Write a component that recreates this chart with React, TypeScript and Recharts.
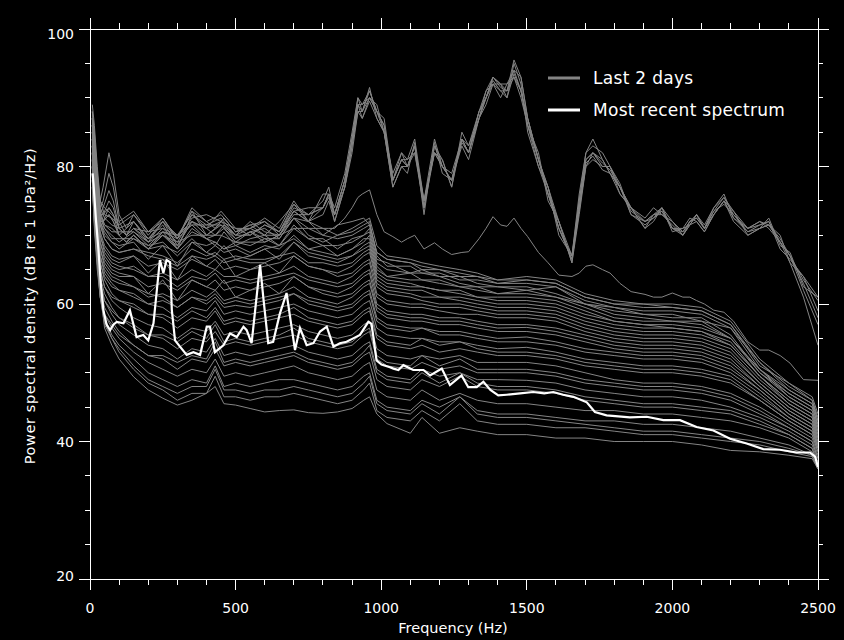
import { LineChart, Line, XAxis, YAxis, Legend } from "recharts";

// frequency grid (Hz) for the loud spectra with the big 900-1800 Hz hump
const upperFreq = [
  8, 15, 25, 35, 45, 65, 80, 100, 125, 150,
  200, 250, 300, 350, 400, 450, 500, 550, 600, 650,
  700, 750, 800, 820, 840, 875, 900, 920, 935, 960,
  985, 1010, 1040, 1070, 1090, 1115, 1147, 1183, 1210, 1242,
  1277, 1300, 1336, 1360, 1384, 1410, 1432, 1456, 1480, 1503,
  1540, 1573, 1610, 1655, 1680, 1703, 1727, 1760, 1786, 1820,
  1858, 1906, 1935, 1964, 2000, 2036, 2060, 2083, 2110, 2142,
  2177, 2210, 2259, 2300, 2331, 2370, 2404, 2450, 2500,
];

const upperSpectra = [
  [
    89, 86, 80, 75, 77, 82, 79, 73, 71, 73,
    70, 72.5, 69.5, 74, 72, 73, 70.5, 71.5, 72, 70.5,
    74.5, 73, 75, 77, 73, 78, 84, 89, 88, 91,
    88, 86, 78, 81, 80, 83, 74, 83, 80, 78,
    84, 82, 88, 90, 92.5, 91, 91, 94, 91, 86,
    81, 76, 71, 66.5, 74, 81, 82, 80.5, 79.5, 77,
    73.5, 72, 73, 73.5, 71, 70.5, 72, 72.5, 71, 73.5,
    75.5, 73, 70.5, 71.5, 72, 69, 67, 63.5, 60.5,
  ],
  [
    88, 85, 79, 74, 75, 79, 77, 72, 70, 72,
    69, 72, 70, 73, 71, 73.5, 71, 71, 72.5, 71,
    75, 72, 76, 76, 74, 79, 85, 90, 89, 90,
    89, 85, 79, 82, 81, 82, 75, 82, 81, 77,
    85, 83, 87, 91, 93, 92, 90, 95, 92, 85,
    80, 77, 70, 67, 75, 82, 84, 81, 79, 76,
    74, 72.5, 74, 73, 72, 70, 71.5, 73, 71.5, 74,
    76, 72.5, 71, 72, 71.5, 70, 66, 64, 59,
  ],
  [
    87, 84, 78, 73, 74, 76.5, 75, 71, 70, 71,
    70.5, 71, 69, 72.5, 73, 72, 70, 72, 70.5, 70,
    73.5, 74, 74, 76, 72, 77, 83, 88, 88, 91.5,
    87, 85, 77, 80, 79, 83.5, 73, 83.5, 79, 78,
    83, 81, 87, 89, 92, 90, 92, 93, 90, 86,
    82, 75, 72, 66, 73, 80, 81, 80, 80, 77.5,
    73, 71.5, 72.5, 74, 70.5, 71, 72.5, 72, 70.5, 73,
    75, 73.5, 70, 71, 72.5, 68.5, 67.5, 62.5, 61,
  ],
  [
    86, 82, 77, 72, 72, 74, 73, 70, 69, 70,
    68, 70, 68.5, 72, 70, 71.5, 69, 70.5, 69.5, 69.5,
    72.5, 72, 73, 75, 72, 77, 82, 88, 87, 90,
    88, 86, 78, 81, 81, 84, 75, 82, 80, 79,
    84, 82, 88, 90, 93, 91.5, 91, 93, 91, 87,
    81, 77, 71, 67, 74, 80, 82, 81, 79, 77,
    74, 71, 73, 73, 71.5, 70, 72, 72.5, 71, 73,
    75, 72.5, 70.5, 71, 71.5, 69.5, 67, 63, 58,
  ],
  [
    88, 84, 78, 73, 73, 75, 74, 71, 70, 71,
    69.5, 71.5, 68, 73, 71.5, 72.5, 70, 70, 71.5, 70.5,
    74, 73, 74, 76, 73, 78, 84, 90, 88, 90,
    88, 87, 78, 81, 80, 82, 74, 83, 81, 77,
    84, 83, 88, 91, 92, 92, 92, 94, 93, 87,
    81, 76, 72, 66, 75, 81, 82, 80, 80, 76,
    74, 72, 73, 74, 71, 71, 71.5, 73, 71, 73.5,
    74.5, 73, 71, 71.5, 72, 68, 66.5, 64, 61,
  ],
  [
    85, 82, 76, 72, 72, 73, 72, 70, 69, 70,
    68, 70.5, 69.5, 71.5, 71.5, 71.5, 70, 71, 70, 70,
    73, 73, 74, 75.5, 73, 77, 83, 89, 87, 89.5,
    87, 85, 77, 80, 80, 83, 74, 82, 80, 78,
    83.5, 82, 87, 90, 92, 91, 90, 93.5, 91, 86,
    80, 76, 71, 66.5, 73.5, 80.5, 81.5, 79.5, 79, 77,
    73, 72, 72.5, 73.5, 71, 70, 71.5, 72, 70.5, 73,
    75, 72, 70, 71, 71.5, 69, 67, 62, 57,
  ],
  [
    87, 83, 77, 73, 73, 74, 73, 71, 70, 71,
    69, 71, 70, 72, 71, 72, 71, 70, 71.5, 70.5,
    73.5, 72, 74, 76, 73, 78, 84, 89, 89, 91,
    88, 85, 78, 82, 80, 83, 75, 84, 80, 78,
    84, 82, 87, 90, 93, 92, 91, 95.5, 93, 87,
    81, 77, 72, 67, 76, 82, 83, 82, 80, 77,
    74, 71, 72, 74, 72, 70.5, 72, 73, 71, 74,
    75.5, 73.5, 71, 72, 71, 69, 66, 61, 54,
  ],
];

// the single spectrum sitting between the loud group and the main band
const transitionSpectrum = [
  86, 83, 77, 72, 72, 73, 72, 70, 69, 70,
  68, 70, 69, 70, 70, 70, 69, 69, 69, 70,
  71, 71, 71, 71, 71, 72.5, 74, 75.5, 76, 76.6,
  73, 70.5, 69.8, 69, 69.5, 70, 68, 68.9, 68, 67.2,
  67.5, 67.6, 69.5, 71, 72.7, 71.5, 71.3, 72.5, 71, 69.8,
  67.5, 66, 64.2, 64, 64.5, 65.5, 65.7, 65, 64.5, 63,
  61.8, 61.4, 61, 61, 61.6, 61, 61, 60.5, 60, 59.1,
  58.8, 57.5, 54.5, 53.3, 53.3, 52.5, 51.4, 49, 48.9,
];

// frequency grid (Hz) for the ordinary background spectra
const bandFreq = [
  8, 15, 25, 35, 50, 75, 100, 150, 200, 250,
  300, 350, 400, 430, 460, 500, 550, 600, 650, 700,
  750, 800, 850, 900, 940, 960, 985, 1020, 1100, 1140,
  1200, 1270, 1330, 1400, 1500, 1600, 1700, 1800, 1900, 2000,
  2100, 2200, 2300, 2400, 2480, 2500,
];

const bandSpectra = [
  [
    87, 84, 79, 75, 74, 73, 72, 73.5, 70.5, 72.5,
    69.5, 73.5, 72, 71, 72.5, 70.5, 71, 72, 70, 73.5,
    72, 71, 70, 71, 72, 72.5, 68.5, 67, 66.5, 66,
    65.5, 65, 64.5, 63.5, 64, 63.5, 61.5, 60.5, 60, 60,
    59.5, 57.5, 52, 48.5, 46.5, 44,
  ],
  [
    86, 83, 78, 75, 73, 72.5, 71.5, 73, 70.5, 72,
    69.5, 73.5, 70, 71, 72.5, 70.5, 71.5, 70, 72, 74.5,
    72, 70, 71.5, 72, 72.5, 71.5, 67.5, 66.5, 66, 65,
    65, 64, 64, 63.5, 63.5, 63, 61, 60, 60, 59.5,
    59, 57, 51, 48.5, 46, 43.5,
  ],
  [
    86, 82, 78, 74, 72.5, 71.5, 71, 72, 69.5, 72,
    68.5, 72, 71, 70, 71.5, 69.5, 70.5, 71, 69.5, 72.5,
    71, 70, 69.5, 70, 71, 71.5, 67.5, 66.5, 66, 65.5,
    65, 64.5, 64, 63, 63.5, 63, 61, 60, 59.5, 59.5,
    59, 57, 51.5, 48, 46, 43,
  ],
  [
    87, 83, 77, 73, 71.5, 71, 70, 72, 69.5, 70.5,
    70, 71.5, 69.5, 70, 71, 69.5, 70.5, 69, 70, 72.5,
    70, 69, 70, 70.5, 71.5, 72, 67, 65.5, 65.5, 64.5,
    64.5, 63.5, 63.5, 63, 63, 62.5, 60.5, 59.5, 59, 59,
    58.5, 56.5, 51.5, 47.5, 45.5, 43,
  ],
  [
    85, 81, 77, 73.5, 71.5, 70.5, 70.5, 70.5, 68.5, 70.5,
    68, 71, 69.5, 68.5, 70.5, 68.5, 69.5, 70, 68.5, 71.5,
    69.5, 69.5, 68, 69.5, 70, 71, 66.5, 66, 64.5, 65,
    64, 64, 63, 62.5, 62, 62.5, 60, 59.5, 58.5, 58.5,
    57.5, 56.5, 50.5, 47.5, 45.5, 42,
  ],
  [
    85, 82, 77, 73, 71, 70, 69, 70.5, 69, 70,
    68, 70.5, 69.5, 69, 68, 69, 68.5, 69.5, 68.5, 71,
    69.5, 68.5, 68.5, 69, 70, 70.5, 66, 65, 64.5, 64.5,
    64, 63, 62.5, 62.5, 62.5, 61.5, 60, 59, 58.5, 58,
    58, 55.5, 50, 47, 45, 42.5,
  ],
  [
    84, 81, 76, 72.5, 71, 69.5, 69.5, 69.5, 68.5, 69,
    67, 69, 68.5, 69, 68, 68.5, 67.5, 68.5, 68, 70,
    68, 68.5, 67, 68, 69, 70, 65.5, 64, 64.5, 63.5,
    63.5, 62.5, 62.5, 61.5, 62, 61, 60, 58.5, 58, 57.5,
    57.5, 55, 50.5, 47, 45, 42.5,
  ],
  [
    85, 81, 76, 72, 70, 69, 68, 69.5, 68, 68.5,
    67.5, 69.5, 67.5, 68.5, 67.5, 68, 67, 68, 68.5, 69.5,
    68, 67.5, 67, 68, 69.5, 69.5, 65, 64, 63.5, 63.5,
    63, 62.5, 62, 61.5, 61.5, 61, 59.5, 58, 57.5, 57.5,
    57, 55, 50.5, 46.5, 44.5, 42,
  ],
  [
    84, 80, 75.5, 72, 70.5, 69, 68.5, 69, 66.5, 68.5,
    65.5, 69, 67.5, 67, 68.5, 66.5, 67, 68, 66.5, 69,
    67.5, 67, 66.5, 67, 68.5, 69, 64.5, 63.5, 63, 62.5,
    62, 62, 61, 61, 61, 60.5, 59, 57.5, 57, 57,
    56.5, 55, 50, 46.5, 44.5, 41.5,
  ],
  [
    84, 80, 75, 71.5, 69.5, 68, 67.5, 68, 67.5, 67,
    66, 68, 67, 67.5, 66.5, 67, 66.5, 66.5, 67, 69,
    67, 66.5, 66, 67, 68, 68.5, 64, 63, 62.5, 62.5,
    62, 61.5, 61, 60.5, 60.5, 60, 58.5, 57.5, 57, 56.5,
    56, 54.5, 49.5, 46, 44, 41.5,
  ],
  [
    83, 79, 75, 71.5, 69.5, 68, 67.5, 68, 67, 66.5,
    65.5, 67, 66.5, 67, 66, 66.5, 66, 66, 67, 67.5,
    66, 66, 65.5, 66, 67.5, 68, 63.5, 62.5, 62, 62,
    61, 61, 60.5, 60, 60, 59.5, 58, 57, 56.5, 56.5,
    56, 54, 49.5, 46, 44, 41,
  ],
  [
    84, 79, 74, 70, 68, 66.5, 66, 67, 65.5, 66,
    65, 66.5, 65.5, 66.5, 65, 65.5, 65, 65.5, 66, 67,
    65.5, 65, 64.5, 65.5, 67, 67.5, 63, 62, 61.5, 61,
    61, 60.5, 60, 59.5, 59.5, 59, 57.5, 56.5, 56, 56,
    55.5, 54, 49.5, 45.5, 43.5, 41,
  ],
  [
    83, 78.5, 74, 70.5, 68.5, 67, 66.5, 67, 64.5, 66.5,
    63.5, 67, 65.5, 65, 66.5, 64, 65, 66, 64.5, 67,
    65.5, 65, 64, 64.5, 66, 66.5, 62.5, 61.5, 61, 60.5,
    60, 60, 59.5, 59, 59, 58.5, 57, 56, 55.5, 55.5,
    55, 53.5, 49, 45.5, 43.5, 40.5,
  ],
  [
    83, 78, 73, 69, 67, 65.5, 65, 65.5, 64, 64.5,
    63.5, 65, 64, 65, 64, 64, 63.5, 64, 64.5, 65.5,
    64, 63.5, 63, 64, 65.5, 66, 61.5, 60.5, 60, 60,
    59.5, 59.5, 59, 58.5, 58.5, 58, 56.5, 55.5, 55, 55,
    54.5, 53, 48.5, 45, 43, 40.5,
  ],
  [
    82, 78, 73.5, 70, 67.5, 66, 65.5, 65, 64, 64,
    62.5, 64, 63.5, 64.5, 63, 63.5, 63, 63.5, 64, 64.5,
    63.5, 63, 62.5, 63, 64.5, 65, 61, 60, 59.5, 59.5,
    59, 58.5, 58.5, 58, 58, 57.5, 56, 55, 54.5, 54.5,
    54, 52.5, 48.5, 45, 43, 40,
  ],
  [
    83, 77, 72, 68, 66, 64.5, 64, 64, 62.5, 63,
    62, 63.5, 62.5, 63.5, 62, 62.5, 62, 62.5, 63, 64,
    62.5, 62, 61.5, 62.5, 64, 64.5, 60, 59, 58.5, 58.5,
    58, 58, 57.5, 57, 57, 56.5, 55.5, 54.5, 54, 54,
    53.5, 52, 48, 44.5, 42.5, 40,
  ],
  [
    82, 77, 72.5, 69, 66.5, 65, 64.5, 64, 61.5, 63.5,
    60.5, 63.5, 62.5, 62, 63.5, 61, 62, 63, 61.5, 64,
    62.5, 61.5, 61, 61.5, 63, 63.5, 59.5, 58.5, 58, 58,
    57.5, 57.5, 57, 56.5, 56.6, 56, 55, 54, 53.5, 53.5,
    53, 51.5, 48, 44.5, 42.5, 39.5,
  ],
  [
    82, 76, 71, 67, 65, 63.5, 63, 62.5, 61, 61.5,
    60.5, 62, 61, 62, 60.5, 61, 60.5, 61, 61.5, 62.5,
    61, 60.5, 60, 61, 62.5, 63, 59, 58, 57.5, 57.5,
    57, 57, 56.5, 56, 56, 55.5, 54.5, 53.5, 53, 53,
    52.5, 51, 47.5, 44, 42, 39.5,
  ],
  [
    81, 76.5, 72, 68, 65.5, 64, 63.5, 62.5, 61.5, 61,
    59.5, 61, 60.5, 61.5, 60, 60.5, 60, 60.5, 61, 61.5,
    60.5, 60, 59.5, 60, 61.5, 62, 58, 57, 56.5, 56.5,
    56, 56, 55.5, 55, 55.2, 54.5, 53.5, 53, 52.5, 52.5,
    52, 50.5, 47.5, 44, 42, 39,
  ],
  [
    82, 76, 70, 66, 64, 62.5, 62, 61.5, 60, 60.5,
    59.5, 61, 60, 61, 59.5, 59.8, 59.5, 60, 60.5, 61.5,
    60, 59.5, 59, 59.5, 61, 61.5, 57.5, 56.5, 56, 56.5,
    55.5, 55.5, 55, 54.5, 54.5, 54, 53, 52.5, 52, 52,
    51.5, 50, 47, 43.5, 41.5, 39,
  ],
  [
    81, 76, 71, 67, 64.5, 63, 62, 61, 60, 59.5,
    58, 59.5, 59, 60.5, 58.5, 59, 58.5, 59, 59.5, 60,
    59, 58.5, 58, 58.5, 60, 60.5, 56.5, 55.5, 55, 55,
    54.5, 54.5, 54, 53.5, 53.7, 53, 52, 51.5, 51, 51,
    50.5, 49.5, 46.5, 43.5, 41.5, 39,
  ],
  [
    81, 75, 69, 65, 62.5, 61, 60.5, 60, 58.5, 58.5,
    57.5, 59, 58, 59.5, 57.5, 58, 57.5, 58, 58.5, 59.5,
    58, 57.5, 57, 57.5, 59, 59.5, 55.5, 54.5, 54, 55,
    54, 54.5, 53.5, 53, 53, 52.5, 51.5, 51, 50.5, 50.5,
    50, 49, 46, 43, 41, 38.5,
  ],
  [
    80, 75, 70, 66, 63.5, 61.5, 60.5, 59.5, 58.5, 58,
    56.5, 58, 57.5, 59, 57, 57.5, 57, 57.5, 58, 58.5,
    57.5, 57, 56.5, 57, 58.5, 59, 55, 54, 53.5, 54,
    53, 53.5, 53, 52.5, 52.5, 52, 51, 50.5, 50, 50,
    49.5, 48.5, 46, 43, 41, 38.5,
  ],
  [
    80, 74.5, 69.5, 65, 62.5, 60.5, 59.5, 58, 57, 56.5,
    55, 56.5, 56, 57.5, 55.5, 56, 55.5, 56, 56.5, 57,
    56, 55.5, 55, 55.5, 57, 57.5, 53.5, 52.5, 52, 52.5,
    52, 52.5, 51.5, 51.5, 51.5, 51, 50, 49, 48.5, 48.5,
    48, 47, 45, 42.5, 40.5, 38,
  ],
  [
    80, 73, 67, 63, 60.5, 59, 58, 57, 55.5, 55.5,
    54.5, 56, 55, 57, 54.5, 55, 54.5, 55, 55.5, 56.5,
    55, 54.5, 54, 54.5, 56, 56.5, 52.5, 51.5, 51, 52.5,
    51, 52, 50.5, 50.5, 50.5, 50, 49, 48.5, 48, 48,
    47.5, 46.5, 44.5, 42, 40, 37.5,
  ],
  [
    79, 74, 69, 64, 61.5, 59.5, 58, 56.5, 55.5, 55,
    53.5, 55, 54.5, 56, 54, 54.5, 54, 54.5, 55, 55.5,
    54.5, 54, 53.5, 54, 55.5, 56, 52, 51, 50.5, 51.5,
    50.5, 51, 50, 50, 50, 49.5, 48.5, 48, 47.5, 47.5,
    47, 46, 44, 42, 40, 37.5,
  ],
  [
    79, 73.5, 68, 63.5, 60.5, 58.5, 57, 55.5, 54, 53.5,
    52, 53.5, 53, 55, 52.5, 53, 52.5, 53, 53.5, 54,
    53, 52.5, 52, 52.5, 54, 54.5, 50.5, 49.5, 49, 50.5,
    49.5, 50, 49, 49, 48.9, 48.5, 47.5, 47, 46.5, 46.5,
    46, 45, 43.5, 41.5, 39.5, 37,
  ],
  [
    79, 71, 65, 61, 58.5, 57, 55.5, 54, 52.5, 52.5,
    51.5, 52.5, 52, 54.5, 51.5, 52, 51.5, 52, 52.5, 53,
    52, 51.5, 51, 51.5, 53, 54, 50, 49, 48.5, 50,
    48.5, 50, 48.5, 48, 48, 47.5, 46.5, 46, 45.5, 45.5,
    45, 44.5, 43, 41, 39, 36.5,
  ],
  [
    78, 73, 67.5, 62.5, 59.5, 57.5, 56, 54, 52.5, 52,
    50.5, 52, 51.5, 53.5, 51, 51.5, 51, 51.5, 52, 52.5,
    51.5, 51, 50.5, 51, 52.5, 53, 49, 48, 47.5, 49,
    48, 49.5, 48, 47.5, 47.5, 47, 46, 45.5, 45, 45,
    44.5, 44, 42.5, 41, 39, 36.5,
  ],
  [
    78, 72.5, 67, 62, 58.5, 56.5, 55, 53, 51.5, 50.5,
    49.5, 50.5, 50, 52, 49.5, 50, 49.5, 50, 50.5, 51,
    50, 49.5, 49, 49.5, 51, 51.5, 47.5, 46.5, 46, 47.5,
    46, 47, 46, 45.5, 45.5, 45, 44.5, 44.5, 44, 44,
    43.5, 43, 42, 40.5, 38.5, 36.5,
  ],
  [
    77, 72, 66.5, 61.5, 58, 55.5, 54, 52, 50, 49,
    48, 49, 48.5, 51, 48, 48.5, 48, 48.5, 49, 49,
    48.5, 48, 47.5, 48, 49.5, 50, 46, 45, 44.5, 46,
    45, 46.5, 44.5, 44, 44, 43.5, 43, 43, 42.5, 42.5,
    42, 41.5, 40.5, 39.5, 38, 36,
  ],
  [
    78, 72, 66, 61, 57, 55, 53.5, 51, 49, 48,
    47, 48, 48, 50.5, 47.5, 47.5, 47, 47.5, 47.5, 48,
    47.5, 47, 46.5, 47, 48.5, 49.5, 45.5, 44.5, 44, 45.5,
    44, 46.5, 44, 43.5, 43.5, 43, 42.5, 42, 41.5, 41.5,
    41, 40.5, 40, 39, 38, 36,
  ],
  [
    77, 71.5, 66, 61, 57.5, 55, 53, 50.5, 48.5, 47.5,
    46, 47, 47, 49.5, 46.5, 46.5, 46, 46.5, 46.5, 47,
    46.5, 46, 45.5, 46, 47.5, 48.5, 44.5, 43.5, 43, 44.5,
    43, 45.5, 43, 42.5, 42.5, 42, 42, 41.5, 41, 41,
    40.5, 40, 39.5, 38.5, 37.8, 36,
  ],
  [
    80, 74, 68, 62, 56.5, 54, 52, 49.4, 47.5, 46.3,
    45.3, 46, 47, 48, 45.5, 45.3, 44.8, 44.3, 44.5, 44.6,
    44.2, 44.1, 44.3, 44.8, 46, 46.5, 44, 42.6, 41.2, 43.5,
    41.2, 42, 41.5, 41, 41, 40.5, 40.5, 40, 40, 40,
    39.5, 38.7, 38.5, 38, 37.5, 36,
  ],
];

// most recent spectrum (white)
const recentFreq = [
  9, 12, 20, 29, 38, 46, 57, 69, 80, 92,
  115, 137, 160, 183, 200, 218, 240, 252, 263, 275,
  281, 292, 309, 332, 355, 378, 401, 412, 429, 458,
  481, 504, 527, 538, 555, 572, 584, 595, 612, 629,
  652, 675, 692, 704, 721, 744, 767, 790, 813, 836,
  858, 881, 904, 927, 956, 967, 984, 1001, 1030, 1042,
  1059, 1076, 1110, 1145, 1168, 1208, 1236, 1276, 1299, 1328,
  1351, 1375, 1402, 1431, 1477, 1522, 1560, 1591, 1625, 1660,
  1706, 1734, 1774, 1854, 1912, 1969, 2026, 2083, 2141, 2198,
  2255, 2312, 2369, 2427, 2473, 2490, 2500,
];
const recentDb = [
  79, 77.5, 72.5, 67.9, 62.5, 59.1, 57, 56.2, 57, 57.4,
  57.2, 59.1, 55.2, 55.5, 54.7, 57.2, 66.4, 64.5, 66.4, 66.1,
  59.1, 54.7, 53.8, 52.6, 53, 52.6, 56.7, 56.7, 53, 54,
  55.7, 55.2, 56.7, 56.2, 54.3, 61, 65.7, 61, 54.3, 54.5,
  58.6, 61.6, 56.7, 53.3, 56.5, 54, 54.3, 56, 56.7, 53.8,
  54.3, 54.5, 55, 55.5, 57.4, 57.1, 51.8, 51.2, 50.8, 50.6,
  50.4, 51.1, 50.4, 50.4, 49.6, 50.6, 48.2, 49.6, 47.9, 47.9,
  48.7, 47.5, 46.7, 46.8, 47, 47.2, 47, 47.2, 46.8, 46.5,
  45.7, 44.3, 43.8, 43.5, 43.6, 43.1, 43.1, 42.1, 41.6, 40.4,
  39.7, 38.9, 38.8, 38.4, 38.4, 37.8, 36.3,
];

const xTicks = [
  0, 100, 200, 300, 400, 500, 600, 700, 800, 900, 1000, 1100, 1200,
  1300, 1400, 1500, 1600, 1700, 1800, 1900, 2000, 2100, 2200, 2300, 2400, 2500,
];
const yTicks = [20, 25, 30, 35, 40, 45, 50, 55, 60, 65, 70, 75, 80, 85, 90, 95, 100];

const toSeries = (freq: number[], db: number[]) => freq.map((f, i) => ({ f, db: db[i] }));

const graySeries = [
  ...upperSpectra.map((s) => toSeries(upperFreq, s)),
  toSeries(upperFreq, transitionSpectrum),
  ...bandSpectra.map((s) => toSeries(bandFreq, s)),
];
const recentSeries = toSeries(recentFreq, recentDb);

const GRAY = "#848484";
const FONT = "'DejaVu Sans', sans-serif";

function BottomTick({ x, y, payload }: any) {
  const major = payload.value % 500 === 0;
  return (
    <g>
      <line x1={x} x2={x} y1={y} y2={y + (major ? 11 : 6)} stroke="#fff" shapeRendering="crispEdges" />
      {major && (
        <text x={x} y={y + 34} textAnchor="middle" fill="#fff" fontSize={14} fontFamily={FONT}>
          {payload.value}
        </text>
      )}
    </g>
  );
}

function TopTick({ x, y, payload }: any) {
  const major = payload.value % 500 === 0;
  return <line x1={x} x2={x} y1={y} y2={y - (major ? 11 : 6)} stroke="#fff" shapeRendering="crispEdges" />;
}

function LeftTick({ x, y, payload }: any) {
  const major = payload.value % 20 === 0;
  // the end labels sit slightly inside the frame, as in the original plot
  const shift = payload.value === 100 ? 5 : payload.value === 20 ? -3 : 0;
  return (
    <g>
      <line x1={x} x2={x - (major ? 11 : 5)} y1={y} y2={y} stroke="#fff" shapeRendering="crispEdges" />
      {major && (
        <text x={x - 16} y={y + 5 + shift} textAnchor="end" fill="#fff" fontSize={14} fontFamily={FONT}>
          {payload.value}
        </text>
      )}
    </g>
  );
}

function RightTick({ x, y, payload }: any) {
  const major = payload.value % 20 === 0;
  return <line x1={x} x2={x + (major ? 11 : 5)} y1={y} y2={y} stroke="#fff" shapeRendering="crispEdges" />;
}

function SpectrumLegend() {
  return (
    <svg width={280} height={70}>
      <line x1={8} x2={40} y1={18} y2={18} stroke={GRAY} strokeWidth={3} />
      <text x={53} y={24} fill="#fff" fontSize={17} letterSpacing={0.3} fontFamily={FONT}>
        Last 2 days
      </text>
      <line x1={8} x2={40} y1={50} y2={50} stroke="#fff" strokeWidth={3} />
      <text x={53} y={56} fill="#fff" fontSize={17} letterSpacing={0.3} fontFamily={FONT}>
        Most recent spectrum
      </text>
    </svg>
  );
}

const axisLine = { stroke: "#fff", shapeRendering: "crispEdges" };

export default function App() {
  return (
    <div style={{ position: "absolute", left: 0, top: 0, width: 844, height: 640, background: "#000" }}>
      <LineChart width={844} height={640} margin={{ top: 19, right: 6, bottom: 21, left: 30 }}>
        <XAxis
          dataKey="f"
          type="number"
          domain={[0, 2500]}
          ticks={xTicks}
          interval={0}
          height={40}
          tickSize={0}
          tickMargin={0}
          tickLine={false}
          axisLine={axisLine}
          tick={<BottomTick />}
          allowDataOverflow
          label={() => (
            <text x={453} y={633} textAnchor="middle" fill="#fff" fontSize={14.5} fontFamily={FONT}>
              Frequency (Hz)
            </text>
          )}
        />
        <XAxis
          xAxisId="top"
          orientation="top"
          dataKey="f"
          type="number"
          domain={[0, 2500]}
          ticks={xTicks}
          interval={0}
          height={10}
          tickSize={0}
          tickMargin={0}
          tickLine={false}
          axisLine={axisLine}
          tick={<TopTick />}
          allowDataOverflow
        />
        <YAxis
          type="number"
          domain={[20, 100]}
          ticks={yTicks}
          interval={0}
          width={60}
          tickSize={0}
          tickMargin={0}
          tickLine={false}
          axisLine={axisLine}
          tick={<LeftTick />}
          allowDataOverflow
          label={() => (
            <text
              x={35}
              y={306}
              transform="rotate(-90 35 306)"
              textAnchor="middle"
              fill="#fff"
              fontSize={14.5}
              letterSpacing={0.6}
              fontFamily={FONT}
            >
              Power spectral density (dB re 1 uPa²/Hz)
            </text>
          )}
        />
        <YAxis
          yAxisId="right"
          orientation="right"
          type="number"
          domain={[20, 100]}
          ticks={yTicks}
          interval={0}
          width={20}
          tickSize={0}
          tickMargin={0}
          tickLine={false}
          axisLine={axisLine}
          tick={<RightTick />}
          allowDataOverflow
        />
        {graySeries.map((pts, i) => (
          <Line
            key={`gray-${i}`}
            data={pts}
            dataKey="db"
            type="linear"
            stroke={GRAY}
            strokeWidth={1}
            dot={false}
            activeDot={false}
            legendType="none"
            isAnimationActive={false}
          />
        ))}
        <Line
          data={recentSeries}
          dataKey="db"
          type="linear"
          stroke="#fff"
          strokeWidth={2.2}
          dot={false}
          activeDot={false}
          legendType="none"
          isAnimationActive={false}
        />
        <Legend
          layout="horizontal"
          verticalAlign="middle"
          align="center"
          content={<SpectrumLegend />}
          wrapperStyle={{ position: "absolute", left: 540, top: 60, width: 280, height: 70 }}
        />
      </LineChart>
    </div>
  );
}
